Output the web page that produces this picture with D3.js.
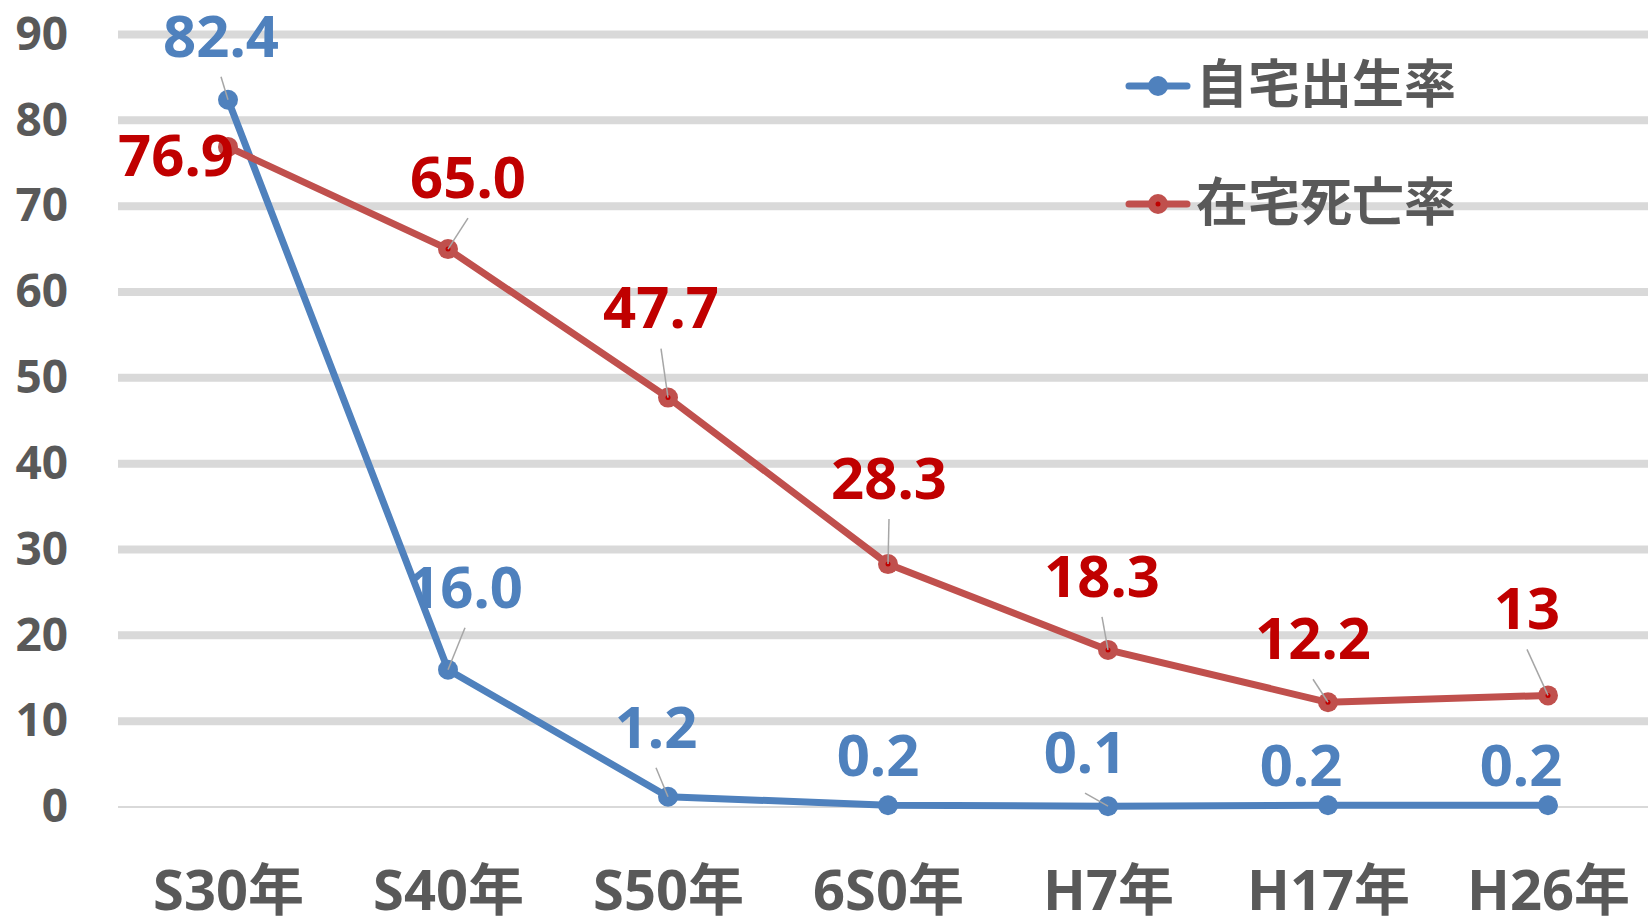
<!DOCTYPE html>
<html>
<head>
<meta charset="utf-8">
<script src="https://cdn.jsdelivr.net/npm/d3@7"></script>
<style>
  body { margin: 0; background: #ffffff; }
  text { font-family: "Noto Sans", "Noto Sans CJK JP", sans-serif; font-weight: bold; }
</style>
</head>
<body>
<div id="chart"></div>
<script>
// Data
var categories = ["S30年", "S40年", "S50年", "6S0年", "H7年", "H17年", "H26年"];
var birthValues = [82.4, 16.0, 1.2, 0.2, 0.1, 0.2, 0.2];
var deathValues = [76.9, 65.0, 47.7, 28.3, 18.3, 12.2, 13];
var birthLabels = ["82.4", "16.0", "1.2", "0.2", "0.1", "0.2", "0.2"];
var deathLabels = ["76.9", "65.0", "47.7", "28.3", "18.3", "12.2", "13"];
var seriesNames = ["自宅出生率", "在宅死亡率"];
var yTicks = [0, 10, 20, 30, 40, 50, 60, 70, 80, 90];

// Where each data label sits relative to its point (px), and whether it has a leader line
var birthLabelOffsets = [[-7, -64], [17, -83], [-12, -70], [-10, -50], [-23, -54], [-27, -40], [-27, -40]];
var deathLabelOffsets = [[-52, 8], [20, -72], [-7, -90], [1, -86], [-6, -74], [-15, -64], [-21, -87]];
var birthLeaders = [true, true, true, false, true, false, false];
var deathLeaders = [false, true, true, true, true, true, true];

var svgWidth = 1648;
var svgHeight = 919;

var svg = d3.select("#chart")
  .append("svg")
  .attr("width", svgWidth)
  .attr("height", svgHeight);

// Scales
var xScale = d3.scalePoint()
  .domain(categories)
  .range([118, 1658])
  .padding(0.5);

var yScale = d3.scaleLinear()
  .domain([0, 90])
  .range([807, 34.5]);

// Gridlines
svg.append("g")
  .selectAll("line")
  .data(yTicks)
  .enter()
  .append("line")
  .attr("x1", 118)
  .attr("x2", svgWidth)
  .attr("y1", d => yScale(d))
  .attr("y2", d => yScale(d))
  .attr("stroke", "#d9d9d9")
  .attr("stroke-width", d => d === 0 ? 2 : 8);

// Y axis labels
var yAxis = svg.append("g")
  .attr("transform", "translate(118, 0)")
  .call(d3.axisLeft(yScale).tickValues(yTicks).tickSize(0).tickPadding(50));
yAxis.select(".domain").remove();
yAxis.selectAll("text")
  .attr("fill", "#595959")
  .style("font-size", "46px")
  .style("font-family", "\"Noto Sans\", sans-serif")
  .style("font-weight", "bold");

// X axis labels
var xAxis = svg.append("g")
  .attr("transform", "translate(0, 807)")
  .call(d3.axisBottom(xScale).tickSize(0));
xAxis.select(".domain").remove();
xAxis.selectAll("text")
  .attr("y", 103)
  .attr("dy", 0)
  .attr("fill", "#595959")
  .style("font-size", "56px")
  .style("font-family", "\"Noto Sans\", \"Noto Sans CJK JP\", sans-serif")
  .style("font-weight", "bold");

var lineGen = d3.line()
  .x((d, i) => xScale(categories[i]))
  .y(d => yScale(d));

function drawSeries(values, lineColor, dotColor) {
  svg.append("path")
    .datum(values)
    .attr("fill", "none")
    .attr("stroke", lineColor)
    .attr("stroke-width", 7)
    .attr("stroke-linejoin", "round")
    .attr("d", lineGen);

  svg.append("g")
    .selectAll("circle")
    .data(values)
    .enter()
    .append("circle")
    .attr("cx", (d, i) => xScale(categories[i]))
    .attr("cy", d => yScale(d))
    .attr("r", 10)
    .attr("fill", lineColor);

  if (dotColor) {
    svg.append("g")
      .selectAll("circle")
      .data(values)
      .enter()
      .append("circle")
      .attr("cx", (d, i) => xScale(categories[i]))
      .attr("cy", d => yScale(d))
      .attr("r", 2.5)
      .attr("fill", dotColor);
  }
}

function drawLabels(values, labels, offsets, leaders, color) {
  // leader lines from under the label to the point
  svg.append("g")
    .selectAll("line")
    .data(values.map((v, i) => i).filter(i => leaders[i]))
    .enter()
    .append("line")
    .attr("x1", i => xScale(categories[i]) + offsets[i][0])
    .attr("y1", i => yScale(values[i]) + offsets[i][1] + 41)
    .attr("x2", i => xScale(categories[i]))
    .attr("y2", i => yScale(values[i]))
    .attr("stroke", "#a6a6a6")
    .attr("stroke-width", 1.5);

  svg.append("g")
    .selectAll("text")
    .data(values)
    .enter()
    .append("text")
    .attr("x", (d, i) => xScale(categories[i]) + offsets[i][0])
    .attr("y", (d, i) => yScale(d) + offsets[i][1])
    .attr("dy", "0.36em")
    .attr("text-anchor", "middle")
    .attr("fill", color)
    .style("font-size", "58px")
    .text((d, i) => labels[i]);
}

drawSeries(birthValues, "#4f81bd", null);
drawSeries(deathValues, "#c0504d", "#c00000");

drawLabels(birthValues, birthLabels, birthLabelOffsets, birthLeaders, "#4f81bd");
drawLabels(deathValues, deathLabels, deathLabelOffsets, deathLeaders, "#c00000");

// Legend
var legendItems = [
  { name: seriesNames[0], color: "#4f81bd", dot: null, y: 86 },
  { name: seriesNames[1], color: "#c0504d", dot: "#c00000", y: 204 }
];

var legend = svg.append("g");
legendItems.forEach(function(item) {
  legend.append("line")
    .attr("x1", 1129)
    .attr("x2", 1187)
    .attr("y1", item.y)
    .attr("y2", item.y)
    .attr("stroke", item.color)
    .attr("stroke-width", 7)
    .attr("stroke-linecap", "round");
  legend.append("circle")
    .attr("cx", 1158)
    .attr("cy", item.y)
    .attr("r", 10)
    .attr("fill", item.color);
  if (item.dot) {
    legend.append("circle")
      .attr("cx", 1158)
      .attr("cy", item.y)
      .attr("r", 2.5)
      .attr("fill", item.dot);
  }
  legend.append("text")
    .attr("x", 1196)
    .attr("y", item.y + 17)
    .attr("fill", "#595959")
    .style("font-size", "52px")
    .style("font-family", "\"Noto Sans CJK JP\", sans-serif")
    .text(item.name);
});
</script>
</body>
</html>
